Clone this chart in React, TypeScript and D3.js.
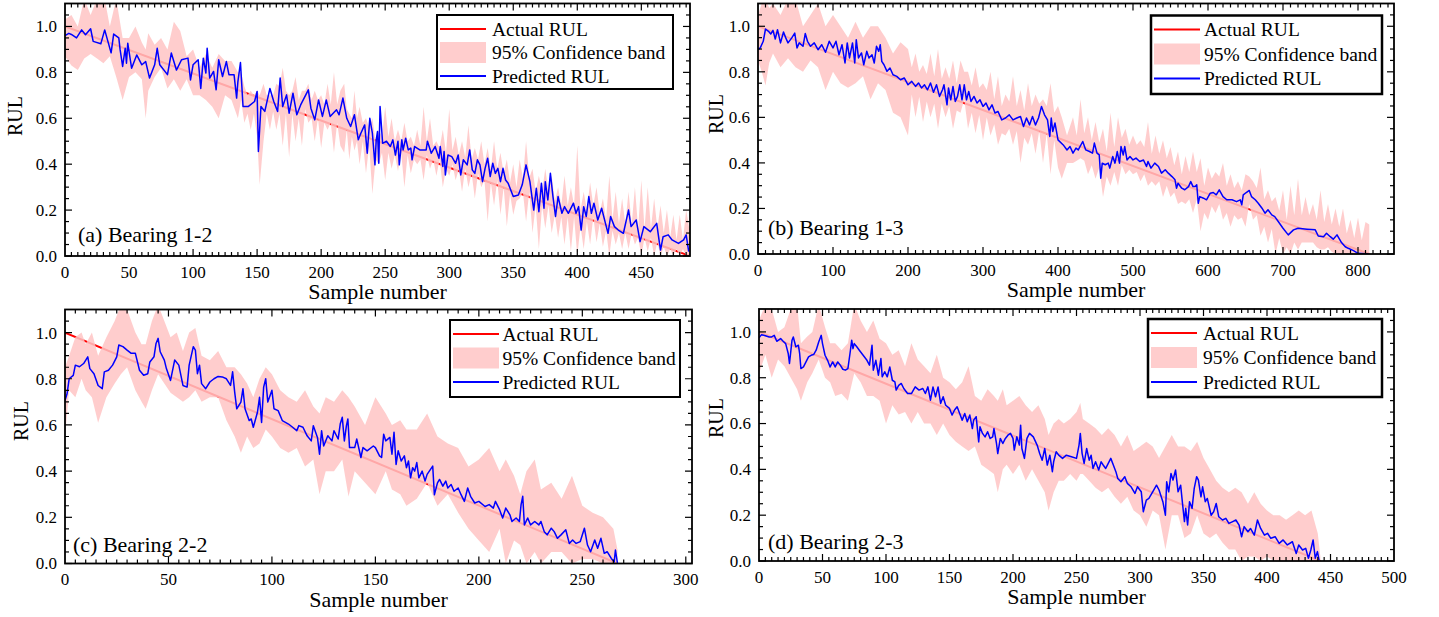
import React from 'react';
import * as d3 from 'd3';

type P = [number, number];
type B = [number, number, number];

// ---------- data ----------
const yTicks = [0, 0.2, 0.4, 0.6, 0.8, 1.0];
const xTicksA = [0, 50, 100, 150, 200, 250, 300, 350, 400, 450];
const xTicksB = [0, 100, 200, 300, 400, 500, 600, 700, 800];
const xTicksC = [0, 50, 100, 150, 200, 250, 300];
const xTicksD = [0, 50, 100, 150, 200, 250, 300, 350, 400, 450, 500];

const lifeA = 488;
const lifeB = 815;
const lifeC = 267;
const lifeD = 442;

const legendLabels = ['Actual RUL', '95% Confidence band', 'Predicted RUL'];
const panelLabels = ['(a) Bearing 1-2', '(b) Bearing 1-3', '(c) Bearing 2-2', '(d) Bearing 2-3'];

const predA: P[] = [
  [0,0.96],[3,0.97],[5,0.965],[9,0.95],[13,0.985],[16,0.964],[20,0.99],[22,0.935],[28,0.925],[31,0.985],[36,0.885],[38,0.967],[42,0.95],[43,0.9],[45,0.826],[47,0.905],[48,0.84],[49,0.927],[52,0.818],[56,0.876],[60,0.833],[63,0.847],[66,0.775],[70,0.833],[72,0.905],[74,0.833],[80,0.79],[83,0.884],[87,0.81],[91,0.855],[96,0.862],[98,0.767],[100,0.833],[104,0.855],[106,0.73],[108,0.862],[110,0.797],[111,0.905],[113,0.775],[116,0.804],[118,0.724],[120,0.855],[123,0.782],[126,0.847],[128,0.79],[132,0.79],[134,0.688],[135,0.76],[137,0.843],[139,0.651],[143,0.651],[148,0.673],[150,0.717],[151,0.455],[153,0.651],[156,0.63],[160,0.73],[163,0.673],[166,0.63],[168,0.775],[170,0.651],[173,0.702],[175,0.622],[178,0.709],[181,0.615],[184,0.658],[186,0.68],[190,0.724],[192,0.644],[195,0.593],[198,0.68],[201,0.608],[204,0.68],[207,0.608],[212,0.637],[214,0.615],[217,0.688],[220,0.6],[223,0.564],[226,0.615],[229,0.506],[231,0.535],[234,0.571],[236,0.448],[238,0.6],[240,0.535],[242,0.397],[243,0.506],[244,0.542],[245,0.404],[246,0.651],[248,0.491],[251,0.5],[254,0.477],[256,0.506],[258,0.44],[260,0.5],[261,0.397],[263,0.506],[264,0.462],[266,0.513],[268,0.462],[270,0.47],[271,0.419],[273,0.477],[277,0.462],[282,0.462],[283,0.5],[286,0.448],[289,0.477],[292,0.426],[293,0.477],[295,0.39],[296,0.455],[297,0.353],[299,0.44],[302,0.433],[305,0.404],[307,0.44],[309,0.353],[311,0.419],[314,0.397],[316,0.462],[318,0.375],[320,0.36],[322,0.419],[324,0.397],[326,0.324],[328,0.382],[330,0.426],[332,0.346],[334,0.404],[336,0.36],[338,0.382],[340,0.324],[342,0.382],[344,0.331],[346,0.317],[350,0.259],[354,0.266],[357,0.31],[360,0.397],[363,0.324],[366,0.2],[368,0.295],[370,0.193],[372,0.317],[374,0.208],[375,0.324],[377,0.244],[379,0.36],[381,0.259],[383,0.172],[385,0.259],[388,0.186],[390,0.215],[393,0.186],[397,0.23],[399,0.186],[401,0.215],[403,0.113],[405,0.215],[407,0.172],[409,0.259],[411,0.186],[413,0.23],[416,0.157],[419,0.208],[422,0.142],[424,0.099],[426,0.172],[429,0.128],[432,0.113],[436,0.099],[440,0.2],[442,0.128],[446,0.157],[449,0.0625],[452,0.128],[457,0.106],[462,0.142],[464,0.0625],[465,0.026],[467,0.084],[471,0.092],[474,0.07],[479,0.055],[483,0.07],[485,0.092],[487,0.019]
];

const bandA: B[] = [
  [0,0.87,1.03],[5,0.83,1.05],[10,0.81,1.0],[15,0.86,1.12],[20,0.88,1.05],[25,0.86,1.12],[30,0.84,1.15],[35,0.87,1.0],[40,0.78,1.12],[45,0.68,0.95],[50,0.78,0.95],[55,0.8,1.0],[60,0.77,0.93],[63,0.6,0.9],[65,0.72,0.97],[70,0.78,0.92],[75,0.82,0.95],[80,0.73,0.9],[85,0.77,1.02],[90,0.72,0.98],[95,0.77,0.87],[100,0.7,0.9],[105,0.7,0.82],[110,0.68,0.88],[115,0.65,0.82],[120,0.6,0.88],[125,0.7,0.85],[130,0.68,0.85],[135,0.6,0.8],[137.5,0.68,0.8],[140,0.58,0.74],[142.5,0.62,0.7],[145,0.55,0.72],[147.5,0.62,0.7],[150,0.52,0.72],[152,0.31,0.7],[155,0.5,0.75],[157.5,0.62,0.7],[160,0.55,0.7],[162.5,0.63,0.7],[165,0.55,0.75],[167.5,0.62,0.74],[170,0.48,0.82],[172.5,0.62,0.72],[175,0.43,0.7],[177.5,0.62,0.72],[180,0.5,0.78],[182.5,0.6,0.68],[185,0.48,0.72],[187.5,0.64,0.72],[190,0.58,0.75],[192.5,0.6,0.68],[195,0.5,0.72],[197.5,0.6,0.68],[200,0.47,0.7],[202.5,0.58,0.66],[205,0.55,0.75],[207.5,0.58,0.66],[210,0.45,0.8],[212.5,0.58,0.66],[215,0.48,0.72],[218,0.45,0.75],[220,0.55,0.64],[222,0.42,0.62],[224,0.52,0.6],[226,0.46,0.72],[228,0.5,0.6],[230,0.4,0.65],[232.5,0.5,0.58],[235,0.36,0.6],[237.5,0.48,0.56],[240,0.27,0.6],[242.5,0.42,0.5],[245,0.4,0.55],[247.5,0.45,0.52],[250,0.33,0.65],[252.5,0.45,0.52],[255,0.38,0.6],[257.5,0.44,0.5],[260,0.37,0.55],[262.5,0.45,0.5],[265,0.3,0.58],[267.5,0.44,0.5],[270,0.36,0.52],[272.5,0.42,0.48],[275,0.4,0.55],[277.5,0.42,0.48],[280,0.33,0.65],[282.5,0.44,0.5],[285,0.38,0.6],[287.5,0.42,0.48],[290,0.35,0.5],[292.5,0.42,0.47],[295,0.3,0.55],[297.5,0.38,0.45],[300,0.35,0.64],[302.5,0.4,0.46],[305,0.33,0.52],[307.5,0.38,0.44],[310,0.28,0.5],[312.5,0.38,0.43],[315,0.3,0.57],[317.5,0.36,0.42],[320,0.25,0.47],[322.5,0.36,0.42],[325,0.3,0.5],[327.5,0.33,0.4],[330,0.15,0.47],[332.5,0.32,0.38],[335,0.22,0.5],[337.5,0.33,0.38],[340,0.18,0.45],[342.5,0.3,0.36],[345,0.13,0.42],[347.5,0.27,0.32],[350,0.18,0.4],[352.5,0.24,0.3],[355,0.25,0.42],[357.5,0.28,0.34],[360,0.15,0.5],[362.5,0.28,0.34],[365,0.1,0.38],[367.5,0.22,0.28],[370,0.03,0.35],[372.5,0.22,0.28],[375,0.12,0.38],[377.5,0.22,0.28],[380,0.1,0.35],[382.5,0.18,0.24],[385,0.08,0.3],[387.5,0.17,0.22],[390,0.05,0.35],[392.5,0.17,0.22],[395,0.02,0.3],[397.5,0.17,0.22],[400,0,0.48],[402.5,0.13,0.2],[405,0.03,0.28],[407.5,0.15,0.2],[410,0.05,0.32],[412.5,0.17,0.22],[415,0.06,0.3],[417.5,0.14,0.19],[420,0.04,0.25],[422.5,0.11,0.16],[425,0,0.35],[427.5,0.11,0.16],[430,0.05,0.28],[432.5,0.1,0.14],[435,0.03,0.25],[437.5,0.1,0.14],[440,0.03,0.28],[442.5,0.1,0.14],[445,0.05,0.3],[447.5,0.08,0.12],[450,0,0.33],[452.5,0.08,0.12],[455,0.02,0.3],[457.5,0.08,0.12],[460,0,0.25],[462.5,0.06,0.12],[465,0,0.22],[467.5,0.04,0.1],[470,0,0.2],[472.5,0.03,0.08],[475,0,0.18],[477.5,0.03,0.07],[480,0,0.18],[482.5,0.03,0.07],[485,0,0.2],[488,0,0.1]
];

const predB: P[] = [
  [0,0.897],[3,0.905],[7,0.934],[10,0.988],[14,0.978],[17,0.966],[20,0.982],[23,0.944],[26,0.985],[30,0.927],[34,0.975],[37,0.949],[40,0.927],[45,0.949],[49,0.97],[52,0.905],[55,0.927],[60,0.912],[63,0.968],[66,0.934],[70,0.912],[75,0.927],[80,0.897],[85,0.919],[90,0.886],[95,0.934],[100,0.905],[104,0.934],[108,0.875],[112,0.919],[116,0.839],[119,0.927],[122,0.861],[126,0.927],[129,0.839],[131,0.941],[134,0.861],[138,0.883],[141,0.831],[145,0.89],[148,0.861],[152,0.875],[155,0.839],[158,0.912],[161,0.89],[163,0.919],[165,0.846],[168,0.831],[172,0.802],[176,0.817],[180,0.787],[185,0.78],[190,0.765],[195,0.773],[200,0.743],[205,0.758],[210,0.736],[214,0.751],[218,0.729],[222,0.743],[226,0.721],[230,0.751],[234,0.71],[238,0.743],[242,0.692],[246,0.721],[248,0.743],[252,0.655],[254,0.729],[257,0.677],[260,0.736],[263,0.67],[266,0.692],[269,0.743],[272,0.677],[275,0.743],[278,0.677],[281,0.714],[284,0.67],[288,0.692],[292,0.663],[296,0.677],[300,0.648],[304,0.663],[308,0.633],[312,0.655],[316,0.619],[320,0.626],[325,0.589],[330,0.597],[335,0.611],[340,0.589],[345,0.597],[350,0.604],[354,0.56],[358,0.597],[362,0.567],[366,0.604],[370,0.567],[374,0.597],[378,0.648],[382,0.611],[386,0.589],[389,0.516],[391,0.597],[393,0.538],[396,0.575],[400,0.501],[407,0.479],[412,0.457],[416,0.472],[420,0.443],[424,0.465],[427,0.457],[433,0.494],[437,0.457],[442,0.45],[446,0.443],[448.5,0.487],[452,0.443],[455,0.435],[457,0.333],[459,0.399],[463,0.392],[467,0.399],[469,0.377],[473,0.428],[476,0.399],[479,0.45],[482,0.399],[484,0.472],[487,0.435],[489,0.472],[492,0.413],[496,0.428],[500,0.413],[504,0.421],[509,0.406],[514,0.413],[518,0.384],[520,0.406],[524,0.377],[529,0.399],[534,0.384],[538,0.355],[543,0.37],[547,0.355],[552,0.34],[556,0.326],[558,0.289],[560,0.311],[565,0.289],[569,0.282],[574,0.296],[577,0.318],[580,0.296],[583,0.296],[585,0.304],[587,0.223],[589,0.252],[594,0.245],[598,0.238],[603,0.267],[607,0.27],[611,0.26],[615,0.282],[620,0.252],[625,0.238],[632,0.238],[638,0.23],[643,0.238],[645,0.216],[647,0.26],[651,0.27],[655,0.279],[658,0.252],[663,0.238],[667,0.223],[672,0.201],[676,0.179],[680,0.194],[685,0.172],[689,0.164],[696,0.132],[700,0.113],[707,0.084],[714,0.106],[720,0.113],[732,0.109],[743,0.106],[747,0.079],[754,0.076],[758,0.091],[763,0.076],[767,0.065],[772,0.084],[778,0.05],[783,0.032],[787,0.025],[794,0.015],[800,0.003],[814,0.0]
];

const bandB: B[] = [
  [0,0.85,1.05],[5,0.8,1.1],[10,0.74,1.12],[15,0.84,1.08],[20,0.88,1.1],[30,0.82,1.05],[40,0.86,1.12],[50,0.82,1.12],[60,0.8,1.0],[70,0.85,1.05],[80,0.82,1.1],[90,0.72,1.0],[100,0.8,1.05],[110,0.75,1.0],[120,0.73,0.95],[130,0.75,1.02],[140,0.78,0.95],[150,0.68,1.0],[160,0.75,1.0],[170,0.72,0.95],[180,0.62,0.88],[190,0.6,0.93],[200,0.52,0.9],[205,0.7,0.82],[210,0.6,0.88],[215,0.69,0.8],[220,0.58,0.83],[225,0.67,0.79],[230,0.6,0.88],[235,0.66,0.78],[240,0.55,0.9],[245,0.66,0.77],[250,0.6,0.82],[255,0.65,0.77],[260,0.55,0.85],[265,0.63,0.75],[270,0.62,0.85],[275,0.68,0.8],[280,0.55,0.8],[285,0.62,0.74],[290,0.53,0.82],[295,0.61,0.73],[300,0.5,0.75],[305,0.6,0.72],[310,0.52,0.8],[315,0.57,0.68],[320,0.48,0.78],[325,0.53,0.65],[330,0.52,0.7],[335,0.55,0.67],[340,0.48,0.78],[345,0.54,0.65],[350,0.4,0.72],[355,0.51,0.63],[360,0.48,0.75],[365,0.53,0.65],[370,0.44,0.7],[375,0.54,0.66],[380,0.4,0.68],[385,0.53,0.65],[390,0.35,0.75],[395,0.5,0.62],[400,0.38,0.65],[405,0.33,0.6],[412,0.4,0.52],[420,0.4,0.6],[425,0.41,0.52],[430,0.42,0.68],[435,0.41,0.53],[440,0.35,0.6],[445,0.39,0.5],[450,0.33,0.58],[455,0.38,0.49],[460,0.25,0.55],[465,0.34,0.45],[470,0.3,0.62],[475,0.36,0.47],[480,0.3,0.6],[485,0.39,0.51],[490,0.35,0.55],[495,0.37,0.48],[500,0.35,0.52],[505,0.36,0.48],[510,0.32,0.5],[515,0.35,0.47],[520,0.3,0.58],[525,0.32,0.44],[530,0.3,0.52],[535,0.32,0.44],[540,0.25,0.5],[545,0.3,0.42],[550,0.25,0.47],[555,0.27,0.39],[560,0.22,0.45],[565,0.23,0.35],[570,0.22,0.43],[575,0.24,0.36],[580,0.18,0.45],[585,0.24,0.36],[590,0.1,0.42],[595,0.18,0.3],[600,0.15,0.38],[605,0.21,0.33],[610,0.18,0.36],[615,0.22,0.34],[620,0.15,0.4],[625,0.18,0.3],[630,0.12,0.35],[635,0.17,0.29],[640,0.15,0.32],[645,0.16,0.28],[650,0.12,0.35],[655,0.22,0.34],[660,0.15,0.32],[665,0.17,0.29],[670,0.08,0.38],[675,0.12,0.24],[680,0.05,0.28],[685,0.11,0.23],[690,0,0.25],[695,0.07,0.19],[700,0,0.28],[705,0.03,0.15],[710,0,0.3],[715,0.05,0.17],[720,0.02,0.33],[725,0.05,0.17],[730,0.05,0.25],[735,0.05,0.17],[740,0.05,0.22],[745,0.03,0.15],[750,0.02,0.28],[755,0.02,0.14],[760,0.03,0.22],[765,0.01,0.13],[770,0,0.2],[775,0,0.12],[780,0,0.2],[785,0,0.09],[790,0,0.15],[795,0,0.07],[800,0,0.16],[805,0,0.06],[810,0,0.14],[815,0,0.13]
];

const predC: P[] = [
  [0,0.706],[1,0.735],[2,0.8],[4,0.815],[5,0.859],[7,0.852],[9,0.866],[11,0.895],[12,0.844],[14,0.822],[16,0.771],[18,0.757],[19,0.83],[21,0.837],[23,0.859],[25,0.895],[26,0.946],[28,0.939],[30,0.924],[32,0.91],[34,0.91],[36,0.837],[38,0.815],[40,0.822],[41,0.873],[43,0.895],[44,0.953],[45,0.975],[46,0.917],[48,0.881],[49,0.844],[51,0.793],[53,0.881],[55,0.859],[57,0.771],[59,0.764],[60,0.859],[62,0.939],[63,0.924],[64,0.822],[65,0.859],[66,0.779],[68,0.757],[70,0.786],[72,0.8],[74,0.81],[76,0.808],[78,0.8],[80,0.771],[81,0.83],[82,0.742],[83,0.67],[85,0.699],[86,0.757],[87,0.67],[89,0.619],[90,0.626],[91,0.59],[93,0.655],[94,0.72],[95,0.611],[96,0.764],[97,0.8],[98,0.699],[100,0.75],[101,0.67],[103,0.662],[105,0.619],[108,0.604],[110,0.59],[112,0.575],[113,0.597],[115,0.59],[117,0.553],[119,0.531],[120,0.597],[122,0.546],[123,0.473],[124,0.575],[125,0.509],[127,0.553],[129,0.531],[130,0.575],[132,0.539],[133,0.604],[134,0.633],[135,0.531],[136,0.597],[136.7,0.626],[137.5,0.502],[140,0.502],[141,0.539],[143,0.459],[144,0.502],[146,0.488],[149,0.509],[150,0.502],[152,0.466],[153,0.459],[154,0.56],[155,0.531],[157,0.546],[158,0.473],[159,0.568],[160,0.429],[161,0.488],[162.5,0.444],[164,0.466],[165,0.415],[166,0.444],[167,0.371],[168,0.415],[169,0.4],[170,0.437],[171,0.371],[172.6,0.4],[174,0.357],[175,0.386],[177.7,0.422],[178.5,0.298],[180,0.349],[181,0.364],[182.6,0.335],[184,0.357],[185,0.327],[186.6,0.342],[188,0.313],[190,0.327],[191.4,0.298],[193,0.269],[194.6,0.327],[196,0.291],[198,0.262],[200,0.269],[203,0.247],[205,0.255],[207,0.24],[208,0.269],[210,0.233],[211.5,0.197],[213,0.24],[215,0.211],[216,0.182],[218,0.197],[219.6,0.182],[220.4,0.255],[221.2,0.291],[222,0.167],[223.6,0.197],[225,0.167],[227,0.182],[229,0.167],[230,0.182],[231.6,0.138],[233,0.124],[235,0.153],[236.4,0.138],[238,0.109],[239.7,0.124],[242,0.146],[243.7,0.087],[245.3,0.102],[247,0.087],[249,0.095],[251,0.153],[252.5,0.08],[254,0.051],[256,0.102],[257.4,0.066],[259,0.109],[260.6,0.044],[262,0.051],[264,0.022],[265.4,0.007],[266,0.058],[267,0.0]
];

const bandC: B[] = [
  [0,0.55,0.85],[2,0.75,0.9],[5,0.72,0.98],[8,0.8,1.0],[10,0.75,0.95],[13,0.72,1.0],[16,0.61,0.9],[20,0.72,0.98],[24,0.78,1.05],[27,0.82,1.12],[30,0.85,1.1],[34,0.75,1.0],[37,0.7,0.95],[39,0.67,0.95],[42,0.75,1.05],[45,0.82,1.12],[48,0.78,1.05],[51,0.74,0.98],[54,0.72,1.0],[57,0.7,0.92],[60,0.72,1.0],[63,0.75,1.02],[66,0.7,0.9],[70,0.72,0.88],[74,0.72,0.92],[78,0.62,0.85],[82,0.55,0.85],[85,0.48,0.82],[88,0.55,0.78],[91,0.5,0.72],[94,0.52,0.8],[97,0.58,0.85],[100,0.55,0.82],[104,0.5,0.75],[108,0.48,0.72],[112,0.5,0.7],[116,0.42,0.75],[120,0.45,0.68],[123,0.3,0.65],[126,0.4,0.72],[130,0.4,0.7],[134,0.45,0.75],[137,0.29,0.72],[140,0.4,0.68],[145,0.35,0.6],[150,0.3,0.72],[155,0.4,0.65],[158,0.32,0.6],[162,0.3,0.62],[165,0.25,0.58],[170,0.28,0.58],[175,0.35,0.65],[180,0.25,0.55],[185,0.3,0.52],[190,0.22,0.5],[195,0.15,0.42],[200,0.1,0.45],[205,0.05,0.5],[210,0.15,0.4],[213,0,0.45],[217,0.1,0.38],[220,0.08,0.3],[223,0,0.4],[227,0.05,0.45],[230,0,0.32],[235,0.05,0.35],[240,0.05,0.28],[245,0,0.38],[250,0.02,0.25],[255,0.02,0.22],[260,0,0.2],[265,0,0.15],[267,0,0.06]
];

const predD: P[] = [
  [0,0.974],[2,0.988],[5,0.983],[8,0.978],[10,0.978],[12,0.985],[14,0.959],[17,0.971],[19,0.959],[21,0.949],[23,0.906],[24,0.862],[26,0.964],[27,0.978],[29,0.935],[31,0.942],[32,0.906],[33,0.84],[35,0.847],[37,0.869],[39,0.891],[41,0.898],[43,0.901],[45,0.92],[47,0.956],[49,0.985],[50,0.949],[52,0.898],[54,0.876],[56,0.847],[58,0.869],[60,0.847],[62,0.869],[64,0.855],[66,0.837],[68,0.833],[70,0.84],[72,0.92],[73,0.964],[74,0.927],[75,0.949],[77,0.935],[79,0.92],[82,0.898],[85,0.876],[87,0.855],[89,0.942],[90,0.833],[92,0.876],[94,0.811],[96,0.884],[97,0.804],[99,0.826],[101,0.804],[103,0.847],[105,0.789],[107,0.782],[108,0.746],[110,0.767],[112,0.775],[114,0.753],[117,0.731],[120,0.731],[123,0.76],[126,0.746],[129,0.753],[131,0.731],[133,0.76],[135,0.702],[137,0.76],[139,0.717],[141,0.76],[143,0.688],[145,0.717],[147,0.68],[150,0.666],[152,0.637],[154,0.659],[156,0.673],[158,0.644],[160,0.615],[162,0.644],[164,0.608],[166,0.637],[168,0.578],[169,0.615],[171,0.63],[173,0.52],[174,0.586],[176,0.557],[178,0.542],[180,0.564],[182,0.535],[184,0.542],[185,0.578],[187,0.513],[188,0.469],[190,0.535],[192,0.513],[194,0.535],[196,0.549],[198,0.557],[200,0.535],[201,0.484],[203,0.542],[205,0.506],[206,0.593],[207,0.491],[209,0.448],[211,0.535],[213,0.557],[216,0.542],[219,0.506],[221,0.469],[223,0.44],[225,0.491],[227,0.419],[229,0.462],[231,0.39],[232,0.433],[234,0.477],[236,0.462],[239,0.448],[242,0.462],[246,0.455],[250,0.448],[252,0.506],[253,0.557],[254.4,0.47],[256,0.426],[258,0.491],[260,0.44],[261.5,0.462],[263,0.404],[265,0.433],[267.5,0.397],[269.4,0.433],[271,0.419],[273,0.404],[275,0.426],[277,0.448],[279,0.419],[281,0.39],[282.5,0.36],[285,0.346],[288,0.368],[290,0.339],[293,0.324],[296,0.295],[298,0.324],[301,0.302],[302.6,0.215],[305,0.266],[307,0.273],[310,0.302],[313,0.331],[315,0.31],[318,0.259],[320,0.2],[321,0.346],[322.6,0.302],[324.4,0.382],[326,0.353],[328,0.397],[330,0.302],[332,0.331],[333.6,0.244],[335,0.172],[336,0.23],[337.5,0.157],[339,0.259],[341,0.23],[342.7,0.317],[344.6,0.368],[346,0.353],[348,0.28],[349.3,0.324],[351.4,0.259],[353,0.273],[356,0.2],[358,0.215],[360,0.251],[362,0.193],[365,0.179],[367.6,0.186],[370,0.164],[373,0.172],[375.5,0.179],[378,0.157],[380,0.106],[382,0.15],[385,0.128],[387,0.142],[390,0.113],[392.5,0.179],[395,0.142],[398,0.113],[400.4,0.121],[403,0.099],[406.4,0.106],[409.6,0.077],[412.7,0.092],[416,0.07],[420,0.084],[423,0.033],[425,0.07],[428,0.048],[430.5,0.055],[432.6,0.012],[434.5,0.048],[436.3,0.092],[438,0.012],[439.7,0.041],[441,0.004]
];

const bandD: B[] = [
  [0,0.82,1.05],[5,0.9,1.12],[10,0.8,1.1],[15,0.88,1.0],[20,0.85,1.02],[25,0.8,1.1],[30,0.75,1.12],[33,0.7,0.95],[38,0.78,0.98],[42,0.82,1.0],[47,0.88,1.12],[52,0.8,1.02],[56,0.78,0.95],[60,0.72,0.95],[65,0.73,0.92],[70,0.7,0.95],[75,0.82,1.12],[80,0.78,1.05],[85,0.72,1.0],[90,0.72,1.05],[95,0.7,0.97],[100,0.6,0.95],[105,0.68,0.9],[110,0.64,0.92],[115,0.65,0.85],[120,0.6,0.95],[125,0.65,0.88],[130,0.6,0.85],[135,0.6,0.82],[140,0.55,0.9],[145,0.6,0.8],[150,0.55,0.78],[155,0.52,0.75],[160,0.5,0.78],[165,0.48,0.85],[170,0.5,0.72],[175,0.42,0.7],[180,0.4,0.75],[185,0.38,0.72],[188,0.3,0.7],[192,0.4,0.75],[195,0.42,0.68],[200,0.38,0.7],[205,0.42,0.72],[210,0.35,0.68],[215,0.4,0.65],[220,0.35,0.68],[225,0.3,0.62],[228,0.22,0.55],[232,0.3,0.6],[236,0.35,0.62],[240,0.35,0.6],[245,0.38,0.62],[250,0.35,0.65],[253,0.38,0.69],[255,0.38,0.62],[260,0.35,0.6],[265,0.32,0.58],[270,0.3,0.55],[275,0.32,0.58],[280,0.28,0.55],[285,0.25,0.5],[290,0.28,0.55],[295,0.22,0.48],[300,0.2,0.5],[305,0.15,0.52],[310,0.22,0.5],[315,0.2,0.45],[320,0.05,0.5],[325,0.2,0.55],[330,0.2,0.5],[335,0.1,0.5],[340,0.12,0.48],[345,0.2,0.52],[350,0.12,0.45],[355,0.1,0.4],[360,0.12,0.35],[365,0.08,0.32],[370,0.05,0.3],[375,0.05,0.32],[380,0,0.3],[385,0.02,0.25],[390,0.02,0.3],[395,0,0.25],[400,0.02,0.22],[405,0,0.2],[410,0,0.2],[415,0,0.18],[420,0,0.2],[425,0,0.22],[430,0,0.2],[435,0,0.22],[440,0,0.12],[442,0,0.02]
];

// ---------- layout ----------
const FONT = 'Liberation Serif, Tinos, Times New Roman, DejaVu Serif, serif';
const RED = '#ff0000';
const BLUE = '#0000ff';
const BAND = '#ffc4c4';

interface Layout {
  left: number; right: number; top: number; bottom: number;
  xMax: number; minor: number;
  lg: { x: number; y: number; w: number; h: number; gap: number; sw: number; tx: number };
  rul: [number, number];
  lab: [number, number];
  clipRight?: number;
}

const layouts: Layout[] = [
  { left: 65, right: 690, top: 3.5, bottom: 256, xMax: 488, minor: 5,
    lg: { x: 437, y: 15, w: 236, h: 74, gap: 23.5, sw: 2, tx: 55 }, rul: [15, 116], lab: [78, 242] },
  { left: 758, right: 1394, top: 3.5, bottom: 254, xMax: 848, minor: 10,
    lg: { x: 1151, y: 15.5, w: 231, h: 78.5, gap: 24.5, sw: 2.5, tx: 53 }, rul: [716, 114], lab: [768, 235] },
  { left: 65, right: 692, top: 309.5, bottom: 563.5, xMax: 303, minor: 5,
    lg: { x: 450, y: 320, w: 230, h: 77, gap: 24, sw: 2, tx: 52.5 }, rul: [21, 421], lab: [73, 552], clipRight: 700 },
  { left: 759, right: 1394, top: 309, bottom: 561, xMax: 500, minor: 5,
    lg: { x: 1148, y: 319, w: 234, h: 78, gap: 24.5, sw: 2.5, tx: 55 }, rul: [716, 418], lab: [768, 548.5] },
];

const series = [
  { pred: predA, band: bandA, life: lifeA, ticks: xTicksA },
  { pred: predB, band: bandB, life: lifeB, ticks: xTicksB },
  { pred: predC, band: bandC, life: lifeC, ticks: xTicksC },
  { pred: predD, band: bandD, life: lifeD, ticks: xTicksD },
];

function Panel({ idx }: { idx: number }) {
  const L = layouts[idx];
  const S = series[idx];
  const x = d3.scaleLinear().domain([0, L.xMax]).range([L.left, L.right]);
  const y = d3.scaleLinear().domain([0, 1.1]).range([L.bottom, L.top]);
  const line = d3.line<P>().x(d => x(d[0])).y(d => y(d[1]));
  const area = d3.area<B>().x(d => x(d[0])).y0(d => y(d[1])).y1(d => y(d[2]));
  const actual: P[] = [[0, 1], [S.life, 0]];
  const clipId = `clip-${idx}`;
  const outerClip = `oclip-${idx}`;

  const xMajor = S.ticks;
  const xMinor = d3.range(0, L.xMax + 1e-6, L.minor).filter(v => !xMajor.some(m => Math.abs(m - v) < 1e-6));
  const yMinor = d3.range(0, 1.1 - 1e-6, 0.05).filter(v => !yTicks.some(m => Math.abs(m - v) < 1e-6));

  const maj = 7, mnr = 4;
  const tickLines: any[] = [];
  xMajor.forEach((v, i) => {
    const px = x(v);
    if (px > L.left + 0.5 && px < L.right - 0.5) {
      tickLines.push(<line key={`xb${i}`} x1={px} x2={px} y1={L.bottom} y2={L.bottom - maj} />);
      tickLines.push(<line key={`xt${i}`} x1={px} x2={px} y1={L.top} y2={L.top + maj} />);
    }
  });
  xMinor.forEach((v, i) => {
    const px = x(v);
    if (px > L.left + 0.5 && px < L.right - 0.5) {
      tickLines.push(<line key={`xbm${i}`} x1={px} x2={px} y1={L.bottom} y2={L.bottom - mnr} />);
      tickLines.push(<line key={`xtm${i}`} x1={px} x2={px} y1={L.top} y2={L.top + mnr} />);
    }
  });
  yTicks.forEach((v, i) => {
    const py = y(v);
    tickLines.push(<line key={`yl${i}`} x1={L.left} x2={L.left + maj} y1={py} y2={py} />);
    tickLines.push(<line key={`yr${i}`} x1={L.right} x2={L.right - maj} y1={py} y2={py} />);
  });
  yMinor.forEach((v, i) => {
    const py = y(v);
    tickLines.push(<line key={`ylm${i}`} x1={L.left} x2={L.left + mnr} y1={py} y2={py} />);
    tickLines.push(<line key={`yrm${i}`} x1={L.right} x2={L.right - mnr} y1={py} y2={py} />);
  });

  const lg = L.lg;
  const rowY = [lg.y + 14, lg.y + 14 + lg.gap, lg.y + 14 + 2 * lg.gap];

  return (
    <g clipPath={L.clipRight ? `url(#${outerClip})` : undefined} style={{ fontFamily: FONT }}>
      <defs>
        <clipPath id={clipId}>
          <rect x={L.left} y={L.top} width={L.right - L.left} height={L.bottom - L.top} />
        </clipPath>
        {L.clipRight ? (
          <clipPath id={outerClip}>
            <rect x={0} y={L.top - 10} width={L.clipRight} height={L.bottom - L.top + 80} />
          </clipPath>
        ) : null}
      </defs>
      <g clipPath={`url(#${clipId})`}>
        <path d={line(actual) || ''} fill="none" stroke={RED} strokeWidth={2} />
        <path d={area(S.band) || ''} fill={BAND} fillOpacity={0.85} stroke="none" />
        <path d={line(S.pred) || ''} fill="none" stroke={BLUE} strokeWidth={1.5} strokeLinejoin="round" />
      </g>
      <rect x={L.left} y={L.top} width={L.right - L.left} height={L.bottom - L.top}
        fill="none" stroke="#000" strokeWidth={1.8} />
      <g stroke="#000" strokeWidth={1.2}>{tickLines}</g>
      <g fontSize={17} fill="#000">
        {xMajor.map((v, i) => (
          <text key={`xl${i}`} x={x(v)} y={L.bottom + 21.5} textAnchor="middle">{v}</text>
        ))}
        {yTicks.map((v, i) => (
          <text key={`yl${i}`} x={L.left - 8} y={y(v)} dy="0.35em" textAnchor="end">{d3.format('.1f')(v)}</text>
        ))}
      </g>
      <text x={(L.left + L.right) / 2} y={L.bottom + 43} textAnchor="middle" fontSize={22}>Sample number</text>
      <text transform={`translate(${L.rul[0] + 6.5},${L.rul[1]}) rotate(-90)`} textAnchor="middle" fontSize={20}>RUL</text>
      <text x={L.lab[0]} y={L.lab[1]} fontSize={22}>{panelLabels[idx]}</text>
      <g>
        <rect x={lg.x} y={lg.y} width={lg.w} height={lg.h} fill="#fff" stroke="#000" strokeWidth={lg.sw} />
        <line x1={lg.x + 3} x2={lg.x + 49} y1={rowY[0]} y2={rowY[0]} stroke={RED} strokeWidth={2} />
        <rect x={lg.x + 3} y={rowY[1] - 10.5} width={46} height={21} fill={BAND} fillOpacity={0.85} />
        <line x1={lg.x + 3} x2={lg.x + 49} y1={rowY[2]} y2={rowY[2]} stroke={BLUE} strokeWidth={2} />
        {legendLabels.map((t, i) => (
          <text key={t} x={lg.x + lg.tx} y={rowY[i] + 6.5} fontSize={19.5}>{t}</text>
        ))}
      </g>
    </g>
  );
}

export default function App() {
  return (
    <svg width={1439} height={617} style={{ position: 'absolute', left: 0, top: 0, background: '#fff' }}>
      <rect x={0} y={0} width={1439} height={617} fill="#fff" />
      {[0, 1, 2, 3].map(i => <Panel key={i} idx={i} />)}
    </svg>
  );
}
